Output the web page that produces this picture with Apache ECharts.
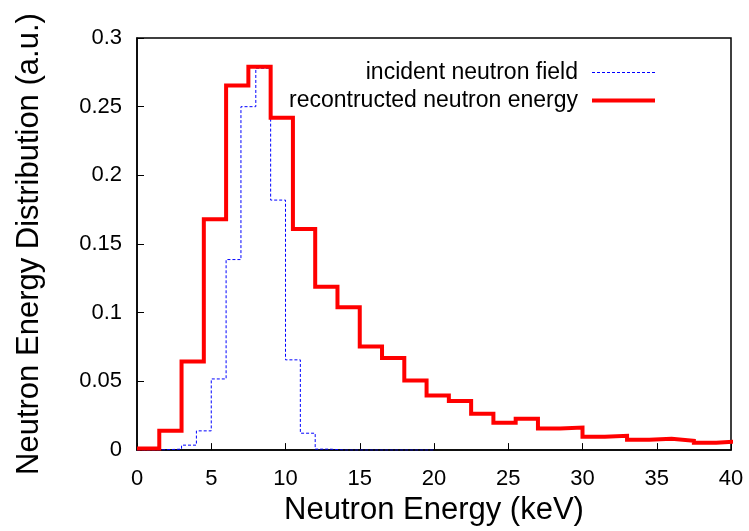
<!DOCTYPE html>
<html>
<head>
<meta charset="utf-8">
<script src="https://cdn.jsdelivr.net/npm/echarts@6/dist/echarts.min.js"></script>
<style>html,body{margin:0;padding:0;background:#fff}#c{width:749px;height:531px}</style>
</head>
<body>
<div id="c"></div>
<script>
// Reconstructed spectrum: 1.5 keV bins (left edges), plus final right edge
var redEdges = [0, 1.5, 3, 4.5, 6, 7.5, 9, 10.5, 12, 13.5, 15, 16.5, 18, 19.5, 21, 22.5, 24, 25.5, 27, 28.5, 30, 31.5, 33, 34.5, 36, 37.5, 39, 40.5];
var redValues = [0.0012, 0.014, 0.0645, 0.168, 0.2655, 0.279, 0.242, 0.161, 0.119, 0.104, 0.0755, 0.067, 0.0506, 0.0397, 0.0357, 0.0265, 0.020, 0.0229, 0.0157, 0.0164, 0.0097, 0.0104, 0.0075, 0.0082, 0.0068, 0.0053, 0.0063];
// Incident neutron field: 1 keV bins (left edges), plus final right edge
var blueEdges = [0, 1, 2, 3, 4, 5, 6, 7, 8, 9, 10, 11, 12, 13, 14, 15, 16, 17, 18, 19, 20];
var blueValues = [0, 0.0003, 0.0007, 0.0036, 0.014, 0.0518, 0.1387, 0.25, 0.278, 0.182, 0.0657, 0.0123, 0.0007, 0, 0, 0, 0, 0, 0, 0];
var xTicks = [0, 5, 10, 15, 20, 25, 30, 35, 40];
var yTicks = [0, 0.05, 0.1, 0.15, 0.2, 0.25, 0.3];
var seriesNames = ['incident neutron field', 'recontructed neutron energy'];

function stepData(edges, vals) {
  var d = [];
  for (var i = 0; i < vals.length; i++) d.push([edges[i], vals[i]]);
  d.push([edges[vals.length], vals[vals.length - 1]]);
  return d;
}

var FONT = 'Liberation Sans, Arial, sans-serif';
var chart = echarts.init(document.getElementById('c'), null, {renderer: 'canvas'});
chart.setOption({
  animation: false,
  backgroundColor: '#fff',
  grid: {left: 137, right: 18, top: 38, bottom: 78, show: true, borderColor: '#000', borderWidth: 1.5, containLabel: false},
  legend: {
    data: [
      {name: seriesNames[0], lineStyle: {width: 1, color: '#0000ff', type: [3, 2]}},
      {name: seriesNames[1], lineStyle: {width: 4, color: '#ff0000', type: 'solid'}}
    ],
    orient: 'vertical',
    align: 'right',
    right: 92,
    top: 61,
    padding: 0,
    itemGap: 5,
    itemWidth: 63,
    itemHeight: 14,
    itemStyle: {opacity: 0, borderWidth: 0},
    textStyle: {fontFamily: FONT, fontSize: 23, color: '#000', padding: [0, 9, 0, 0]}
  },
  xAxis: {
    type: 'value',
    min: xTicks[0], max: xTicks[xTicks.length - 1], interval: xTicks[1] - xTicks[0],
    name: 'Neutron Energy (keV)',
    nameLocation: 'middle',
    nameGap: 44,
    nameTextStyle: {fontFamily: FONT, fontSize: 31, color: '#000'},
    axisLine: {show: true, lineStyle: {color: '#000', width: 1.5}},
    axisTick: {show: true, inside: true, length: 7, lineStyle: {color: '#000', width: 1}},
    axisLabel: {fontFamily: FONT, fontSize: 22, color: '#000', margin: 18},
    splitLine: {show: false}
  },
  yAxis: {
    type: 'value',
    min: yTicks[0], max: yTicks[yTicks.length - 1], interval: yTicks[1] - yTicks[0],
    name: 'Neutron Energy Distribution (a.u.)',
    nameLocation: 'middle',
    nameGap: 92,
    nameTextStyle: {fontFamily: FONT, fontSize: 31, color: '#000'},
    axisLine: {show: true, lineStyle: {color: '#000', width: 1.5}},
    axisTick: {show: true, inside: true, length: 7, lineStyle: {color: '#000', width: 1}},
    axisLabel: {fontFamily: FONT, fontSize: 22, color: '#000', margin: 15},
    splitLine: {show: false}
  },
  series: [
    {
      name: seriesNames[0],
      type: 'line',
      step: 'end',
      symbol: 'none',
      data: stepData(blueEdges, blueValues),
      lineStyle: {color: '#0000ff', width: 1, type: [3, 2]},
      itemStyle: {color: '#0000ff'},
      z: 2
    },
    {
      name: seriesNames[1],
      type: 'line',
      step: 'end',
      symbol: 'none',
      data: stepData(redEdges, redValues),
      lineStyle: {color: '#ff0000', width: 4, join: 'miter'},
      itemStyle: {color: '#ff0000'},
      z: 3
    }
  ]
});
</script>
</body>
</html>
